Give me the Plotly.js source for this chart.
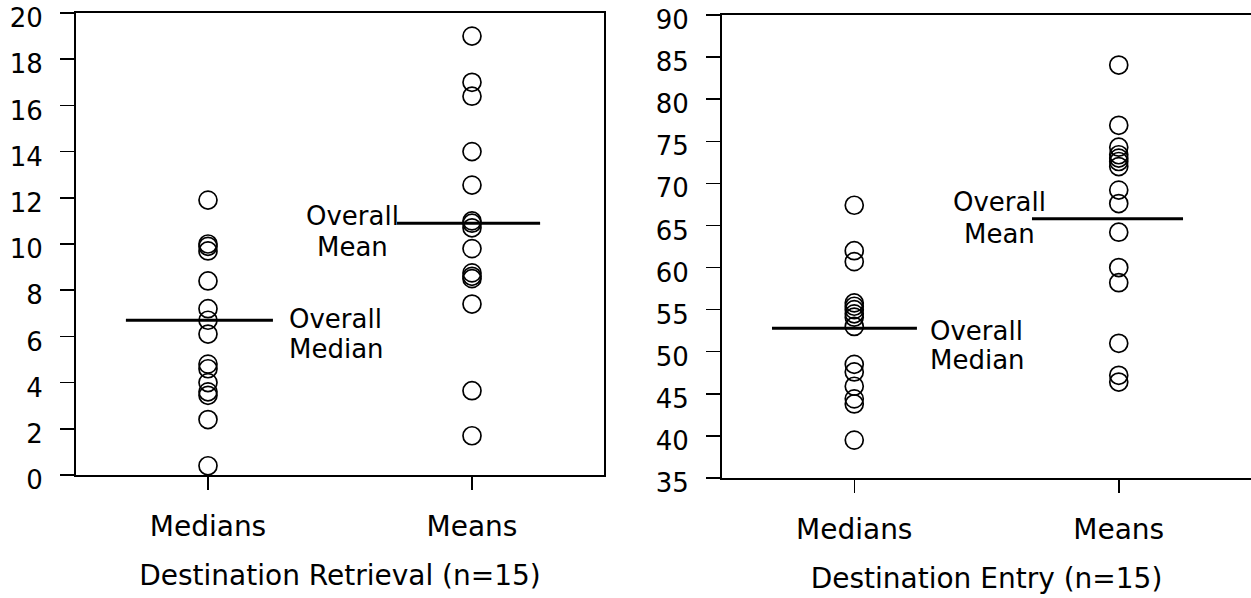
<!DOCTYPE html>
<html>
<head>
<meta charset="utf-8">
<script src="https://cdn.plot.ly/plotly-3.0.1.min.js"></script>
<style>html,body{margin:0;padding:0;background:#fff;}#chart{width:1251px;height:598px;}</style>
</head>
<body>
<div id="chart"></div>
<script>
// ---- data ----
const categories = ['Medians', 'Means'];
const retrievalMedians = [11.9, 10.0, 9.9, 9.7, 8.4, 7.2, 6.7, 6.1, 4.8, 4.6, 4.0, 3.6, 3.45, 2.4, 0.4];
const retrievalMeans = [19.0, 17.0, 16.4, 14.0, 12.55, 11.0, 10.9, 10.7, 9.8, 8.75, 8.6, 8.5, 7.4, 3.65, 1.7];
const entryMedians = [67.4, 62.0, 60.7, 55.8, 55.4, 55.0, 54.5, 54.1, 53.0, 48.5, 47.6, 45.9, 44.4, 43.8, 39.5];
const entryMeans = [84.05, 76.9, 74.3, 73.4, 73.0, 72.6, 72.0, 69.2, 67.6, 64.2, 60.0, 58.2, 51.0, 47.2, 46.4];
const overallMedian = [6.7, 52.8];   // retrieval, entry
const overallMean = [10.9, 65.8];    // retrieval, entry
const leftTicks = [0, 2, 4, 6, 8, 10, 12, 14, 16, 18, 20];
const rightTicks = [35, 40, 45, 50, 55, 60, 65, 70, 75, 80, 85, 90];
const xTitles = ['Destination Retrieval (n=15)', 'Destination Entry (n=15)'];

const FONT = 'DejaVu Sans, sans-serif';
const W = 1251, H = 598;

function pts(vals, idx, xa, ya) {
  return {
    type: 'scatter', mode: 'markers', xaxis: xa, yaxis: ya,
    x: vals.map(() => idx), y: vals,
    marker: {symbol: 'circle-open', size: 18, color: '#000', line: {width: 1.7, color: '#000'}},
    hoverinfo: 'y', showlegend: false
  };
}
function hline(y, x0, x1, xa, ya) {
  return {type: 'scatter', mode: 'lines', xaxis: xa, yaxis: ya, x: [x0, x1], y: [y, y],
    line: {color: '#000', width: 3}, hoverinfo: 'skip', showlegend: false};
}

const data = [
  pts(retrievalMedians, 0, 'x', 'y'),
  pts(retrievalMeans, 1, 'x', 'y'),
  pts(entryMedians, 0, 'x2', 'y2'),
  pts(entryMeans, 1, 'x2', 'y2'),
  hline(overallMedian[0], -0.311, 0.246, 'x', 'y'),
  hline(overallMean[0], 0.716, 1.258, 'x', 'y'),
  hline(overallMedian[1], -0.311, 0.237, 'x2', 'y2'),
  hline(overallMean[1], 0.672, 1.243, 'x2', 'y2')
];

function xax(domain, title, mirror, anchor) {
  return {
    anchor: anchor,
    domain: domain, range: [-0.5, 1.5], tickmode: 'array', tickvals: [0, 1], ticktext: categories,
    showline: true, linewidth: 2, linecolor: '#000', mirror: mirror,
    ticks: 'outside', ticklen: 13, tickwidth: 1.5, tickcolor: '#000',
    showgrid: false, zeroline: false, ticklabelstandoff: 12,
    tickfont: {family: FONT, size: 28, color: '#000'},
    title: {text: title, font: {family: FONT, size: 28, color: '#000'}, standoff: 24},
    fixedrange: true
  };
}
function yax(domain, range, ticks, mirror, anchor) {
  return {
    anchor: anchor,
    domain: domain, range: range, tickmode: 'array', tickvals: ticks,
    showline: true, linewidth: 2, linecolor: '#000', mirror: mirror,
    ticks: 'outside', ticklen: 14, tickwidth: 1.5, tickcolor: '#000',
    showgrid: false, zeroline: false, ticklabelstandoff: 12, ticklabelshift: 5,
    ticklabeloverflow: 'allow',
    tickfont: {family: FONT, size: 26, color: '#000'}, fixedrange: true
  };
}

function ann(text, x, y, xa, ya, anchor) {
  return {text: text, x: x, y: y, xref: xa, yref: ya, xanchor: anchor, yanchor: 'middle',
    showarrow: false, font: {family: FONT, size: 26, color: '#000'}};
}

const layout = {
  width: W, height: H,
  margin: {l: 0, r: 0, t: 0, b: 0, pad: 0},
  paper_bgcolor: '#fff', plot_bgcolor: '#fff',
  showlegend: false,
  xaxis: xax([76 / W, 604 / W], xTitles[0], true, 'y'),
  yaxis: yax([(H - 475) / H, (H - 13) / H], [0, 20], leftTicks, true, 'x'),
  xaxis2: xax([722 / W, 1], xTitles[1], true, 'y2'),
  yaxis2: yax([(H - 478) / H, (H - 15) / H], [35, 90], rightTicks, false, 'x2'),
  annotations: [
    ann('Overall', 0.30, 6.75, 'x', 'y', 'left'),
    ann('Median', 0.30, 5.45, 'x', 'y', 'left'),
    ann('Overall', 0.549, 11.21, 'x', 'y', 'center'),
    ann('Mean', 0.549, 9.87, 'x', 'y', 'center'),
    ann('Overall', 0.28, 52.46, 'x2', 'y2', 'left'),
    ann('Median', 0.28, 49.01, 'x2', 'y2', 'left'),
    ann('Overall', 0.551, 67.78, 'x2', 'y2', 'center'),
    ann('Mean', 0.551, 63.98, 'x2', 'y2', 'center')
  ]
};

Plotly.newPlot('chart', data, layout, {displayModeBar: false, staticPlot: true});
</script>
</body>
</html>
